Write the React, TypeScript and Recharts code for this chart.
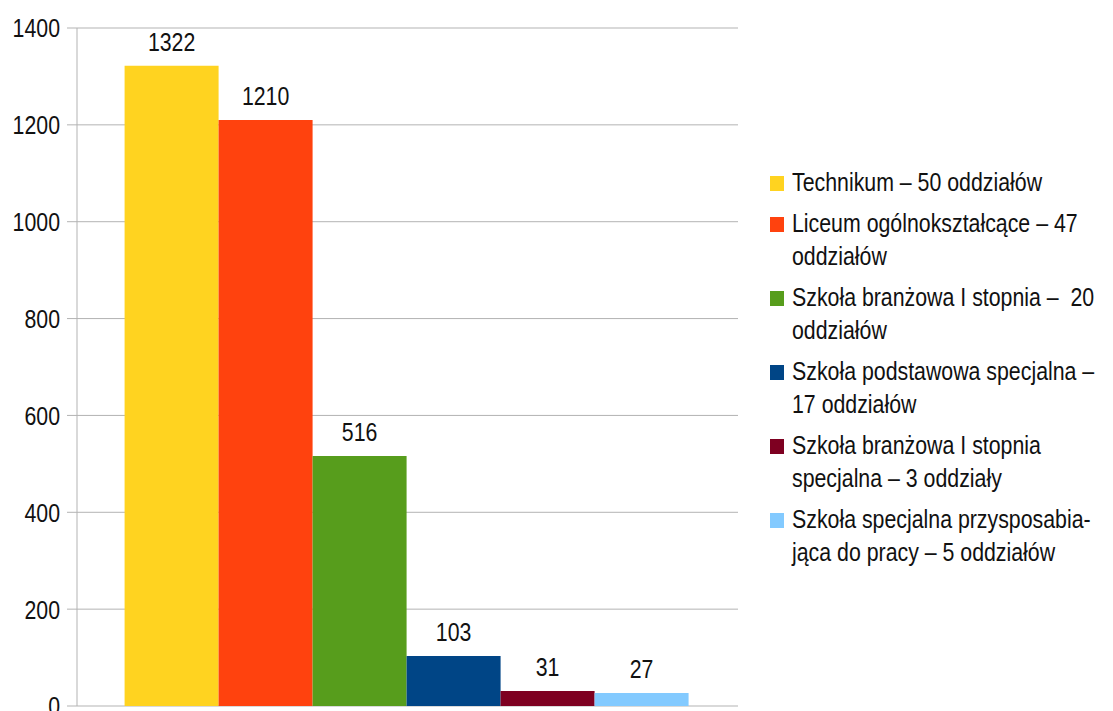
import { BarChart, Bar, XAxis, YAxis, CartesianGrid, LabelList } from 'recharts';

const seriesNames = [
  'Technikum – 50 oddziałów',
  'Liceum ogólnokształcące – 47\noddziałów',
  'Szkoła branżowa I stopnia –  20\noddziałów',
  'Szkoła podstawowa specjalna –\n17 oddziałów',
  'Szkoła branżowa I stopnia\nspecjalna – 3 oddziały',
  'Szkoła specjalna przysposabia-\njąca do pracy – 5 oddziałów',
];
const seriesValues = [1322, 1210, 516, 103, 31, 27];
const seriesColors = ['#FFD320', '#FF420E', '#579D1C', '#004586', '#7E0021', '#83CAFF'];
const yTicks = [0, 200, 400, 600, 800, 1000, 1200, 1400];

// no narrow font installed, so squeeze Liberation Sans horizontally
const FONT = '"Liberation Sans Narrow", "Liberation Sans", Arial, sans-serif';
const SQUEEZE = 0.82;
const GRID = '#b3b3b3';
const INK = '#111';

const row: Record<string, number | string> = { name: '' };
seriesValues.forEach((v, i) => {
  row['s' + i] = v;
});
const data = [row];

function YTick(props: any) {
  const { x, y, payload } = props;
  return (
    <g transform={`translate(${x},${y})`}>
      <text transform={`scale(${SQUEEZE},1)`} textAnchor="end" dy="0.36em" fill={INK} fontSize={26} fontFamily={FONT}>
        {payload.value}
      </text>
    </g>
  );
}

function TopLabel(props: any) {
  const { x, y, width, value } = props;
  return (
    <g transform={`translate(${x + width / 2},${y - 15})`}>
      <text transform={`scale(${SQUEEZE},1)`} textAnchor="middle" fill={INK} fontSize={26} fontFamily={FONT}>
        {value}
      </text>
    </g>
  );
}

function LegendBox() {
  return (
    <div
      style={{
        position: 'absolute',
        left: 770,
        top: 166,
        fontFamily: FONT,
        fontSize: 26,
        lineHeight: '33px',
        color: INK,
      }}
    >
      {seriesNames.map((name, i) => (
        <div key={i} style={{ display: 'flex', marginBottom: 8 }}>
          <div
            style={{
              width: 14,
              height: 15,
              marginTop: 10,
              marginRight: 8,
              background: seriesColors[i],
              flexShrink: 0,
            }}
          />
          <div style={{ whiteSpace: 'pre', transform: `scaleX(${SQUEEZE})`, transformOrigin: 'left center' }}>{name}</div>
        </div>
      ))}
    </div>
  );
}

export default function App() {
  return (
    <div style={{ position: 'absolute', left: 0, top: 0, width: 1113, height: 711, background: '#fff', overflow: 'hidden' }}>
      <BarChart
        width={1113}
        height={711}
        data={data}
        margin={{ top: 28, right: 375, bottom: 5, left: 0 }}
        barGap={0}
        barCategoryGap="7.2%"
      >
        <CartesianGrid vertical={false} stroke={GRID} />
        <XAxis dataKey="name" hide />
        <YAxis
          domain={[0, 1400]}
          ticks={yTicks}
          width={77}
          tickSize={10}
          tickMargin={7}
          axisLine={{ stroke: GRID }}
          tickLine={{ stroke: GRID }}
          tick={<YTick />}
          interval={0}
        />
        <YAxis
          yAxisId="right"
          orientation="right"
          width={0}
          tick={false}
          tickLine={false}
          axisLine={{ stroke: GRID }}
        />
        {seriesValues.map((_, i) => (
          <Bar key={i} dataKey={'s' + i} name={seriesNames[i]} fill={seriesColors[i]} isAnimationActive={false}>
            <LabelList dataKey={'s' + i} content={<TopLabel />} />
          </Bar>
        ))}
      </BarChart>
      <LegendBox />
    </div>
  );
}
